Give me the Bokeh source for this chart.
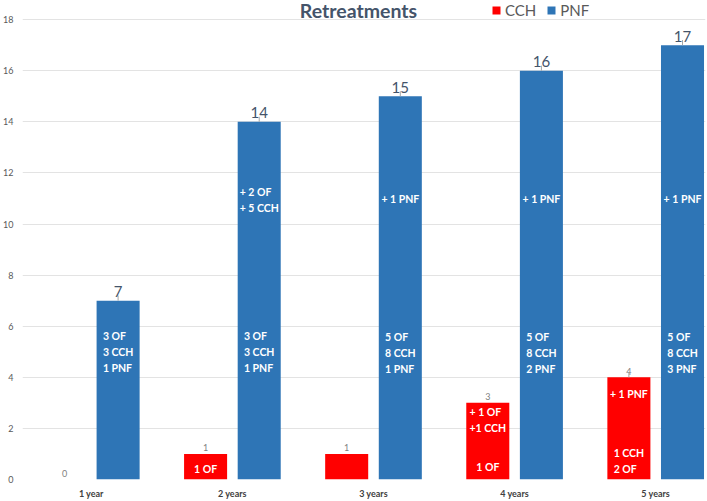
from bokeh.plotting import figure
from bokeh.models import Range1d, FixedTicker, Legend, LegendItem, Label
from bokeh.core.properties import value
from bokeh.embed import file_html
from bokeh.resources import INLINE

# ---- data ----
categories = ["1 year", "2 years", "3 years", "4 years", "5 years"]
cch = [0, 1, 1, 3, 4]
pnf = [7, 14, 15, 16, 17]

# notes written inside the bars: (category index, anchor value, text)
pnf_notes_text = ["3 OF\n3 CCH\n1 PNF", "+ 2 OF\n+ 5 CCH", "3 OF\n3 CCH\n1 PNF",
                  "+ 1 PNF", "5 OF\n8 CCH\n1 PNF", "+ 1 PNF", "5 OF\n8 CCH\n2 PNF",
                  "+ 1 PNF", "5 OF\n8 CCH\n3 PNF"]
pnf_notes_cat = [0, 1, 1, 2, 2, 3, 3, 4, 4]
pnf_notes_val = [5.0, 10.95, 5.0, 10.98, 4.95, 10.98, 4.95, 10.98, 4.95]

cch_notes_text = ["1 OF", "+ 1 OF\n+1 CCH", "1 OF", "+ 1 PNF", "1 CCH\n2 OF"]
cch_notes_cat = [1, 3, 3, 4, 4]
cch_notes_val = [0.41, 2.32, 0.49, 3.33, 0.72]

y_ticks = [0, 2, 4, 6, 8, 10, 12, 14, 16, 18]

RED = "#FF0000"
BLUE = "#2E75B6"
FONT = "Lato"

xpos = list(range(1, len(categories) + 1))
off = 0.19
bw = 0.305

p = figure(width=707, height=501, output_backend="svg", toolbar_location=None,
           x_range=Range1d(0.5124, 5.353), y_range=Range1d(0, 18.75),
           min_border_left=20, min_border_right=2, min_border_top=0, min_border_bottom=20)
p.outline_line_color = None
p.background_fill_color = "white"
p.border_fill_color = "white"

# axes
p.xaxis.ticker = FixedTicker(ticks=xpos)
p.xaxis.major_label_overrides = {i: c for i, c in zip(xpos, categories)}
p.xaxis.axis_line_color = None
p.xaxis.major_tick_line_color = None
p.xaxis.major_tick_out = 0
p.xaxis.major_tick_in = 0
p.xaxis.minor_tick_line_color = None
p.xaxis.minor_tick_out = 0
p.xaxis.major_label_text_font = FONT
p.xaxis.major_label_text_font_style = "bold"
p.xaxis.major_label_text_font_size = "9px"
p.xaxis.major_label_text_color = "#404040"
p.xaxis.major_label_standoff = 8

p.yaxis.ticker = FixedTicker(ticks=y_ticks)
p.yaxis.axis_line_color = None
p.yaxis.major_tick_line_color = None
p.yaxis.major_tick_out = 0
p.yaxis.major_tick_in = 0
p.yaxis.minor_tick_line_color = None
p.yaxis.minor_tick_out = 0
p.yaxis.major_label_text_font = FONT
p.yaxis.major_label_text_font_size = "9px"
p.yaxis.major_label_text_color = "#595959"
p.yaxis.major_label_standoff = 9

p.xgrid.grid_line_color = None
p.ygrid.grid_line_color = "#E3E3E3"
p.ygrid.grid_line_width = 1

# bars
cx = [x - off for x in xpos]
px = [x + off for x in xpos]
r_cch = p.vbar(x=cx, top=cch, width=bw, color=RED, line_color=None)
r_pnf = p.vbar(x=px, top=pnf, width=bw, color=BLUE, line_color=None)

# leader lines
p.segment(x0=px, y0=pnf, x1=px, y1=[v + 0.2 for v in pnf], line_color="#A6A6A6", line_width=1)
p.segment(x0=[cx[4]], y0=[cch[4]], x1=[cx[4]], y1=[cch[4] + 0.2], line_color="#A6A6A6", line_width=1)

# totals
p.text(x=px, y=pnf, text=[str(v) for v in pnf], text_font=value(FONT), text_font_size="15px",
       text_color="#44546A", text_align="center", text_baseline="alphabetic", y_offset=-9)
p.text(x=cx, y=cch, text=[str(v) for v in cch], text_font=value(FONT), text_font_size="9px",
       text_color="#7F7F7F", text_align="center", text_baseline="alphabetic", y_offset=-6)

# notes inside bars
p.text(x=[px[i] for i in pnf_notes_cat], y=pnf_notes_val, text=pnf_notes_text,
       text_font=value(FONT), text_font_size="10.5px", text_font_style="bold",
       text_color="white", text_align="left", anchor="center", text_line_height=1.33)
p.text(x=[cx[i] for i in cch_notes_cat], y=cch_notes_val, text=cch_notes_text,
       text_font=value(FONT), text_font_size="10.5px", text_font_style="bold",
       text_color="white", text_align="left", anchor="center", text_line_height=1.33)

# title
title = Label(x=336, y=469, x_units="screen", y_units="screen", text="Retreatments",
              text_font=FONT, text_font_size="19.5px", text_font_style="bold",
              text_color="#44546A", text_align="center", text_baseline="middle")
p.add_layout(title)

# legend
legend = Legend(items=[LegendItem(label="CCH", renderers=[r_cch]),
                       LegendItem(label="PNF", renderers=[r_pnf])],
                orientation="horizontal", location=(469, 460),
                glyph_width=10, glyph_height=10, label_standoff=4, spacing=10,
                padding=0, margin=0, label_height=18,
                label_text_font=FONT, label_text_font_size="15px", label_text_color="#595959",
                border_line_color=None, background_fill_alpha=0)
p.add_layout(legend, "center")

open("out.html", "w").write(file_html(p, INLINE))
